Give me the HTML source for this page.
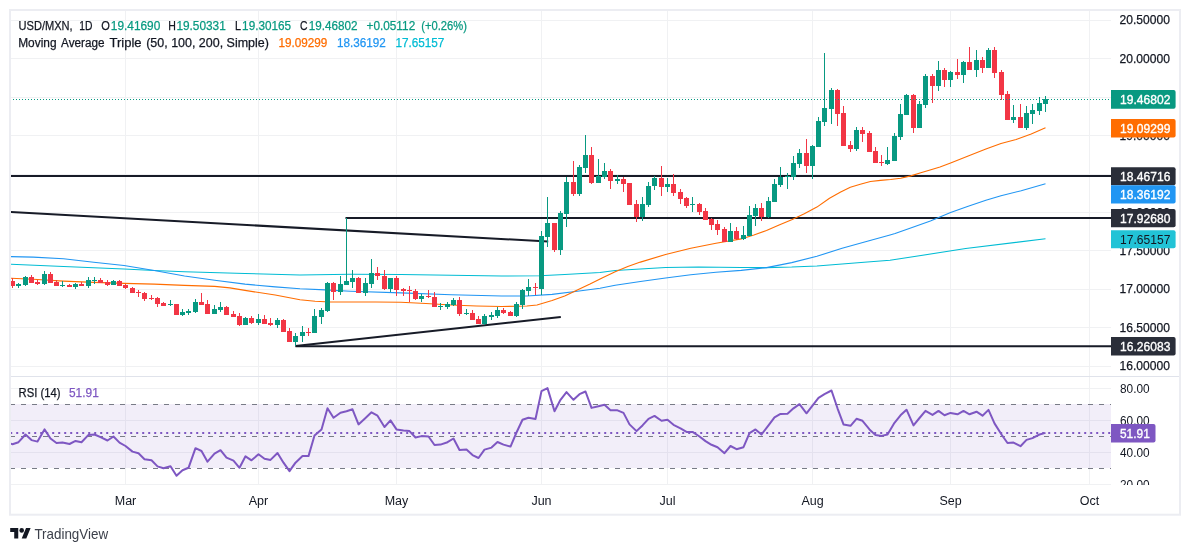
<!DOCTYPE html>
<html lang="en"><head><meta charset="utf-8"><title>USD/MXN 1D</title>
<style>html,body{margin:0;padding:0;background:#fff}body{width:1190px;height:552px;overflow:hidden}svg{display:block;will-change:transform;opacity:.999}text{font-family:"Liberation Sans", "DejaVu Sans", sans-serif;font-size:12.5px}</style></head><body>
<svg width="1190" height="552" viewBox="0 0 1190 552">
<rect width="1190" height="552" fill="#fff"/><g fill="#131722">
<g stroke="#f0f1f3" stroke-width="1" shape-rendering="crispEdges">
<line x1="11" x2="1111" y1="20.5" y2="20.5"/>
<line x1="11" x2="1111" y1="58.5" y2="58.5"/>
<line x1="11" x2="1111" y1="97.5" y2="97.5"/>
<line x1="11" x2="1111" y1="135.5" y2="135.5"/>
<line x1="11" x2="1111" y1="174.5" y2="174.5"/>
<line x1="11" x2="1111" y1="212.5" y2="212.5"/>
<line x1="11" x2="1111" y1="250.5" y2="250.5"/>
<line x1="11" x2="1111" y1="289.5" y2="289.5"/>
<line x1="11" x2="1111" y1="327.5" y2="327.5"/>
<line x1="11" x2="1111" y1="366.5" y2="366.5"/>
<line x1="11" x2="1111" y1="388.5" y2="388.5"/>
<line x1="11" x2="1111" y1="420.5" y2="420.5"/>
<line x1="11" x2="1111" y1="452.5" y2="452.5"/>
<line x1="11" x2="1111" y1="484.5" y2="484.5"/>
<line x1="125.5" x2="125.5" y1="11" y2="485"/>
<line x1="258.5" x2="258.5" y1="11" y2="485"/>
<line x1="396.5" x2="396.5" y1="11" y2="485"/>
<line x1="541.5" x2="541.5" y1="11" y2="485"/>
<line x1="667.5" x2="667.5" y1="11" y2="485"/>
<line x1="812.5" x2="812.5" y1="11" y2="485"/>
<line x1="950.5" x2="950.5" y1="11" y2="485"/>
<line x1="1089.5" x2="1089.5" y1="11" y2="485"/>
</g>
<line x1="11" x2="1179" y1="376.5" y2="376.5" stroke="#e0e3eb" stroke-width="1"/>
<rect x="11" y="404" width="1100" height="64" fill="#7E57C2" fill-opacity="0.1"/>
<g stroke="#787B86" stroke-width="1" stroke-dasharray="5 6" shape-rendering="crispEdges">
<line x1="10" x2="1111" y1="404.5" y2="404.5"/>
<line x1="10" x2="1111" y1="436.5" y2="436.5"/>
<line x1="10" x2="1111" y1="468.5" y2="468.5"/>
</g>
<defs><clipPath id="cp"><rect x="11" y="11" width="1100" height="365"/></clipPath><clipPath id="cr"><rect x="11" y="377" width="1100" height="108"/></clipPath></defs>
<g clip-path="url(#cp)">
<g stroke="#171b27" stroke-width="2" stroke-linecap="butt" fill="none">
<line x1="11" x2="1111" y1="176" y2="176"/>
<line x1="345.5" x2="1111" y1="218" y2="218"/>
<line x1="295.5" x2="1111" y1="346.3" y2="346.3"/>
<line x1="10" y1="212" x2="548.2" y2="241.5"/>
<line x1="295.5" y1="346" x2="560.8" y2="316.9"/>
</g>
<polyline fill="none" stroke="#00BCD4" stroke-width="1.05" stroke-linejoin="round" points="10.5,264.2 63.5,266.5 124.0,269.0 154.2,270.5 184.5,271.8 245.0,273.5 300.0,275.0 350.4,274.3 400.8,274.5 451.2,275.3 501.7,276.0 539.5,275.8 564.7,274.5 600.0,272.6 615.2,270.4 640.4,268.9 665.6,267.6 698.4,266.9 741.2,267.6 766.5,267.6 791.7,267.1 816.9,265.9 842.1,264.1 867.3,262.1 890.0,260.3 965.7,248.6 1045.5,238.7"/>
<polyline fill="none" stroke="#2196F3" stroke-width="1.1" stroke-linejoin="round" points="10.5,256.6 33.2,257.1 63.5,258.7 93.7,262.2 124.0,265.5 154.2,270.5 184.5,276.0 214.7,280.3 245.0,284.1 275.2,286.9 300.0,288.7 325.2,289.9 350.4,291.2 400.8,292.9 451.2,294.7 501.7,296.0 526.9,296.0 552.1,294.4 577.3,291.2 600.0,288.3 615.2,285.3 640.4,281.5 665.6,278.0 690.8,274.7 716.0,272.2 741.2,270.4 766.5,267.6 791.7,262.6 816.9,256.3 842.1,248.2 867.3,241.2 890.0,235.0 895.1,233.5 912.8,227.2 930.4,220.9 950.6,212.6 968.2,206.3 985.9,200.2 1001.0,195.7 1021.2,190.7 1045.5,183.8"/>
<polyline fill="none" stroke="#FF6D00" stroke-width="1.1" stroke-linejoin="round" points="10.5,278.3 33.2,279.3 63.5,281.1 93.7,282.4 124.0,283.4 154.2,284.1 184.5,285.4 214.7,286.4 229.8,287.9 245.0,290.4 275.2,295.0 300.0,299.7 315.1,301.3 330.2,302.0 375.6,302.0 400.8,302.3 426.0,303.5 451.2,305.0 476.5,306.0 501.7,306.5 526.9,306.0 537.0,305.0 552.1,300.5 564.7,296.0 577.3,289.9 590.0,284.0 602.6,277.7 615.2,271.8 627.8,266.4 640.4,262.1 665.6,254.5 690.8,248.2 716.0,243.2 741.2,238.9 753.9,234.9 766.5,230.6 779.1,225.0 791.7,219.7 804.3,213.7 816.9,207.1 829.5,198.2 840.2,192.3 850.3,187.2 860.3,184.2 870.4,181.5 880.5,180.4 890.6,179.5 900.7,178.2 910.8,175.9 920.8,172.8 930.9,169.8 940.0,166.9 950.6,162.9 968.2,156.1 985.9,149.1 1001.0,143.5 1016.1,139.5 1031.2,133.9 1045.5,127.8"/>
<g fill="#089981" shape-rendering="crispEdges">
<rect x="18.0" y="283" width="1" height="5"/><rect x="16.0" y="284" width="5" height="2"/>
<rect x="25.0" y="276" width="1" height="10"/><rect x="23.0" y="277" width="5" height="8"/>
<rect x="44.0" y="271" width="1" height="14"/><rect x="42.0" y="274" width="5" height="10"/>
<rect x="62.0" y="281" width="1" height="6"/><rect x="60.0" y="285" width="5" height="1"/>
<rect x="75.0" y="283" width="1" height="6"/><rect x="73.0" y="284" width="5" height="3"/>
<rect x="88.0" y="277" width="1" height="11"/><rect x="86.0" y="280" width="5" height="6"/>
<rect x="94.0" y="277" width="1" height="7"/><rect x="92.0" y="280" width="5" height="1"/>
<rect x="113.0" y="280" width="1" height="5"/><rect x="111.0" y="281" width="5" height="4"/>
<rect x="170.0" y="300" width="1" height="6"/><rect x="168.0" y="304" width="5" height="1"/>
<rect x="182.0" y="309" width="1" height="7"/><rect x="180.0" y="312" width="5" height="3"/>
<rect x="188.0" y="309" width="1" height="6"/><rect x="186.0" y="311" width="5" height="2"/>
<rect x="195.0" y="299" width="1" height="14"/><rect x="193.0" y="302" width="5" height="10"/>
<rect x="214.0" y="305" width="1" height="9"/><rect x="212.0" y="309" width="5" height="5"/>
<rect x="220.0" y="302" width="1" height="10"/><rect x="218.0" y="307" width="5" height="3"/>
<rect x="245.0" y="317" width="1" height="8"/><rect x="243.0" y="318" width="5" height="7"/>
<rect x="258.0" y="314" width="1" height="11"/><rect x="256.0" y="319" width="5" height="4"/>
<rect x="277.0" y="318" width="1" height="10"/><rect x="275.0" y="320" width="5" height="5"/>
<rect x="295.0" y="333" width="1" height="13"/><rect x="293.0" y="336" width="5" height="6"/>
<rect x="302.0" y="326" width="1" height="16"/><rect x="300.0" y="332" width="5" height="4"/>
<rect x="314.0" y="309" width="1" height="24"/><rect x="312.0" y="316" width="5" height="17"/>
<rect x="321.0" y="308" width="1" height="16"/><rect x="319.0" y="310" width="5" height="7"/>
<rect x="327.0" y="282" width="1" height="30"/><rect x="325.0" y="283" width="5" height="28"/>
<rect x="340.0" y="276" width="1" height="19"/><rect x="338.0" y="284" width="5" height="8"/>
<rect x="346.0" y="218" width="1" height="67"/><rect x="344.0" y="281" width="5" height="4"/>
<rect x="352.0" y="270" width="1" height="18"/><rect x="350.0" y="278" width="5" height="4"/>
<rect x="365.0" y="278" width="1" height="18"/><rect x="363.0" y="283" width="5" height="10"/>
<rect x="371.0" y="259" width="1" height="29"/><rect x="369.0" y="273" width="5" height="11"/>
<rect x="390.0" y="278" width="1" height="14"/><rect x="388.0" y="278" width="5" height="11"/>
<rect x="421.0" y="294" width="1" height="8"/><rect x="419.0" y="296" width="5" height="3"/>
<rect x="440.0" y="303" width="1" height="7"/><rect x="438.0" y="306" width="5" height="1"/>
<rect x="447.0" y="302" width="1" height="7"/><rect x="445.0" y="304" width="5" height="3"/>
<rect x="453.0" y="298" width="1" height="8"/><rect x="451.0" y="300" width="5" height="5"/>
<rect x="466.0" y="309" width="1" height="6"/><rect x="464.0" y="313" width="5" height="1"/>
<rect x="484.0" y="314" width="1" height="11"/><rect x="482.0" y="316" width="5" height="8"/>
<rect x="491.0" y="312" width="1" height="8"/><rect x="489.0" y="315" width="5" height="2"/>
<rect x="497.0" y="307" width="1" height="11"/><rect x="495.0" y="310" width="5" height="6"/>
<rect x="516.0" y="302" width="1" height="15"/><rect x="514.0" y="304" width="5" height="12"/>
<rect x="522.0" y="289" width="1" height="20"/><rect x="520.0" y="290" width="5" height="15"/>
<rect x="528.0" y="279" width="1" height="17"/><rect x="526.0" y="287" width="5" height="4"/>
<rect x="541.0" y="231" width="1" height="64"/><rect x="539.0" y="236" width="5" height="53"/>
<rect x="547.0" y="197" width="1" height="50"/><rect x="545.0" y="223" width="5" height="14"/>
<rect x="560.0" y="211" width="1" height="44"/><rect x="558.0" y="213" width="5" height="37"/>
<rect x="566.0" y="177" width="1" height="50"/><rect x="564.0" y="182" width="5" height="32"/>
<rect x="579.0" y="165" width="1" height="31"/><rect x="577.0" y="167" width="5" height="27"/>
<rect x="585.0" y="135" width="1" height="38"/><rect x="583.0" y="155" width="5" height="13"/>
<rect x="598.0" y="159" width="1" height="24"/><rect x="596.0" y="176" width="5" height="7"/>
<rect x="604.0" y="163" width="1" height="16"/><rect x="602.0" y="171" width="5" height="6"/>
<rect x="617.0" y="175" width="1" height="9"/><rect x="615.0" y="179" width="5" height="2"/>
<rect x="642.0" y="197" width="1" height="24"/><rect x="640.0" y="204" width="5" height="13"/>
<rect x="648.0" y="182" width="1" height="25"/><rect x="646.0" y="186" width="5" height="19"/>
<rect x="654.0" y="176" width="1" height="14"/><rect x="652.0" y="178" width="5" height="8"/>
<rect x="667.0" y="178" width="1" height="14"/><rect x="665.0" y="184" width="5" height="3"/>
<rect x="692.0" y="197" width="1" height="15"/><rect x="690.0" y="204" width="5" height="1"/>
<rect x="730.0" y="223" width="1" height="19"/><rect x="728.0" y="231" width="5" height="11"/>
<rect x="743.0" y="226" width="1" height="14"/><rect x="741.0" y="235" width="5" height="4"/>
<rect x="749.0" y="206" width="1" height="30"/><rect x="747.0" y="215" width="5" height="21"/>
<rect x="755.0" y="204" width="1" height="22"/><rect x="753.0" y="208" width="5" height="8"/>
<rect x="768.0" y="197" width="1" height="21"/><rect x="766.0" y="201" width="5" height="16"/>
<rect x="774.0" y="179" width="1" height="23"/><rect x="772.0" y="184" width="5" height="18"/>
<rect x="780.0" y="167" width="1" height="20"/><rect x="778.0" y="177" width="5" height="8"/>
<rect x="787.0" y="173" width="1" height="16"/><rect x="785.0" y="176" width="5" height="1"/>
<rect x="793.0" y="156" width="1" height="24"/><rect x="791.0" y="163" width="5" height="14"/>
<rect x="799.0" y="149" width="1" height="19"/><rect x="797.0" y="153" width="5" height="11"/>
<rect x="812.0" y="145" width="1" height="34"/><rect x="810.0" y="146" width="5" height="20"/>
<rect x="818.0" y="117" width="1" height="30"/><rect x="816.0" y="121" width="5" height="26"/>
<rect x="824.0" y="53" width="1" height="73"/><rect x="822.0" y="108" width="5" height="14"/>
<rect x="831.0" y="88" width="1" height="36"/><rect x="829.0" y="90" width="5" height="19"/>
<rect x="856.0" y="127" width="1" height="24"/><rect x="854.0" y="130" width="5" height="19"/>
<rect x="887.0" y="147" width="1" height="18"/><rect x="885.0" y="160" width="5" height="4"/>
<rect x="894.0" y="133" width="1" height="28"/><rect x="892.0" y="136" width="5" height="25"/>
<rect x="900.0" y="104" width="1" height="36"/><rect x="898.0" y="114" width="5" height="23"/>
<rect x="906.0" y="94" width="1" height="21"/><rect x="904.0" y="95" width="5" height="20"/>
<rect x="919.0" y="101" width="1" height="27"/><rect x="917.0" y="104" width="5" height="24"/>
<rect x="925.0" y="74" width="1" height="34"/><rect x="923.0" y="76" width="5" height="29"/>
<rect x="938.0" y="61" width="1" height="30"/><rect x="936.0" y="70" width="5" height="16"/>
<rect x="950.0" y="71" width="1" height="16"/><rect x="948.0" y="72" width="5" height="8"/>
<rect x="963.0" y="61" width="1" height="22"/><rect x="961.0" y="62" width="5" height="13"/>
<rect x="976.0" y="50" width="1" height="27"/><rect x="974.0" y="60" width="5" height="10"/>
<rect x="988.0" y="48" width="1" height="20"/><rect x="986.0" y="50" width="5" height="18"/>
<rect x="1013.0" y="105" width="1" height="18"/><rect x="1011.0" y="117" width="5" height="3"/>
<rect x="1026.0" y="106" width="1" height="24"/><rect x="1024.0" y="113" width="5" height="15"/>
<rect x="1032.0" y="104" width="1" height="20"/><rect x="1030.0" y="110" width="5" height="4"/>
<rect x="1039.0" y="97" width="1" height="18"/><rect x="1037.0" y="103" width="5" height="8"/>
<rect x="1045.0" y="96" width="1" height="16"/><rect x="1043.0" y="99" width="5" height="5"/>
</g>
<g fill="#F23645" shape-rendering="crispEdges">
<rect x="12.0" y="278" width="1" height="10"/><rect x="10.0" y="281" width="5" height="5"/>
<rect x="31.0" y="275" width="1" height="8"/><rect x="29.0" y="277" width="5" height="6"/>
<rect x="37.0" y="280" width="1" height="5"/><rect x="35.0" y="282" width="5" height="2"/>
<rect x="50.0" y="272" width="1" height="11"/><rect x="48.0" y="274" width="5" height="9"/>
<rect x="56.0" y="280" width="1" height="6"/><rect x="54.0" y="282" width="5" height="4"/>
<rect x="69.0" y="284" width="1" height="3"/><rect x="67.0" y="285" width="5" height="2"/>
<rect x="81.0" y="282" width="1" height="4"/><rect x="79.0" y="284" width="5" height="2"/>
<rect x="100.0" y="278" width="1" height="5"/><rect x="98.0" y="280" width="5" height="3"/>
<rect x="107.0" y="280" width="1" height="6"/><rect x="105.0" y="282" width="5" height="3"/>
<rect x="119.0" y="280" width="1" height="6"/><rect x="117.0" y="281" width="5" height="5"/>
<rect x="125.0" y="284" width="1" height="5"/><rect x="123.0" y="285" width="5" height="3"/>
<rect x="132.0" y="287" width="1" height="6"/><rect x="130.0" y="288" width="5" height="5"/>
<rect x="138.0" y="290" width="1" height="7"/><rect x="136.0" y="292" width="5" height="1"/>
<rect x="144.0" y="292" width="1" height="9"/><rect x="142.0" y="293" width="5" height="6"/>
<rect x="151.0" y="295" width="1" height="5"/><rect x="149.0" y="298" width="5" height="1"/>
<rect x="157.0" y="297" width="1" height="10"/><rect x="155.0" y="298" width="5" height="6"/>
<rect x="163.0" y="302" width="1" height="4"/><rect x="161.0" y="303" width="5" height="3"/>
<rect x="176.0" y="304" width="1" height="11"/><rect x="174.0" y="304" width="5" height="11"/>
<rect x="201.0" y="293" width="1" height="12"/><rect x="199.0" y="302" width="5" height="3"/>
<rect x="207.0" y="300" width="1" height="14"/><rect x="205.0" y="304" width="5" height="10"/>
<rect x="226.0" y="306" width="1" height="9"/><rect x="224.0" y="307" width="5" height="8"/>
<rect x="233.0" y="311" width="1" height="6"/><rect x="231.0" y="314" width="5" height="3"/>
<rect x="239.0" y="313" width="1" height="13"/><rect x="237.0" y="316" width="5" height="9"/>
<rect x="251.0" y="316" width="1" height="8"/><rect x="249.0" y="318" width="5" height="5"/>
<rect x="264.0" y="315" width="1" height="9"/><rect x="262.0" y="319" width="5" height="5"/>
<rect x="270.0" y="318" width="1" height="8"/><rect x="268.0" y="323" width="5" height="2"/>
<rect x="283.0" y="319" width="1" height="13"/><rect x="281.0" y="320" width="5" height="12"/>
<rect x="289.0" y="328" width="1" height="14"/><rect x="287.0" y="331" width="5" height="11"/>
<rect x="308.0" y="328" width="1" height="8"/><rect x="306.0" y="332" width="5" height="1"/>
<rect x="333.0" y="282" width="1" height="18"/><rect x="331.0" y="283" width="5" height="9"/>
<rect x="358.0" y="277" width="1" height="16"/><rect x="356.0" y="278" width="5" height="15"/>
<rect x="377.0" y="267" width="1" height="13"/><rect x="375.0" y="273" width="5" height="3"/>
<rect x="384.0" y="270" width="1" height="20"/><rect x="382.0" y="276" width="5" height="13"/>
<rect x="396.0" y="276" width="1" height="20"/><rect x="394.0" y="278" width="5" height="12"/>
<rect x="403.0" y="288" width="1" height="8"/><rect x="401.0" y="289" width="5" height="2"/>
<rect x="409.0" y="286" width="1" height="16"/><rect x="407.0" y="290" width="5" height="1"/>
<rect x="415.0" y="289" width="1" height="11"/><rect x="413.0" y="291" width="5" height="8"/>
<rect x="428.0" y="290" width="1" height="8"/><rect x="426.0" y="296" width="5" height="1"/>
<rect x="434.0" y="292" width="1" height="15"/><rect x="432.0" y="297" width="5" height="10"/>
<rect x="459.0" y="297" width="1" height="19"/><rect x="457.0" y="300" width="5" height="14"/>
<rect x="472.0" y="310" width="1" height="10"/><rect x="470.0" y="313" width="5" height="7"/>
<rect x="478.0" y="316" width="1" height="8"/><rect x="476.0" y="319" width="5" height="5"/>
<rect x="503.0" y="308" width="1" height="6"/><rect x="501.0" y="310" width="5" height="3"/>
<rect x="510.0" y="311" width="1" height="5"/><rect x="508.0" y="312" width="5" height="4"/>
<rect x="535.0" y="283" width="1" height="12"/><rect x="533.0" y="287" width="5" height="1"/>
<rect x="554.0" y="223" width="1" height="29"/><rect x="552.0" y="223" width="5" height="27"/>
<rect x="573.0" y="161" width="1" height="35"/><rect x="571.0" y="182" width="5" height="12"/>
<rect x="591.0" y="147" width="1" height="37"/><rect x="589.0" y="155" width="5" height="28"/>
<rect x="610.0" y="169" width="1" height="20"/><rect x="608.0" y="171" width="5" height="10"/>
<rect x="623.0" y="177" width="1" height="15"/><rect x="621.0" y="179" width="5" height="5"/>
<rect x="629.0" y="183" width="1" height="22"/><rect x="627.0" y="183" width="5" height="22"/>
<rect x="636.0" y="200" width="1" height="22"/><rect x="634.0" y="204" width="5" height="13"/>
<rect x="661.0" y="166" width="1" height="30"/><rect x="659.0" y="178" width="5" height="9"/>
<rect x="673.0" y="174" width="1" height="22"/><rect x="671.0" y="184" width="5" height="9"/>
<rect x="680.0" y="189" width="1" height="15"/><rect x="678.0" y="192" width="5" height="7"/>
<rect x="686.0" y="197" width="1" height="11"/><rect x="684.0" y="198" width="5" height="8"/>
<rect x="699.0" y="203" width="1" height="12"/><rect x="697.0" y="204" width="5" height="8"/>
<rect x="705.0" y="208" width="1" height="12"/><rect x="703.0" y="211" width="5" height="9"/>
<rect x="711.0" y="218" width="1" height="12"/><rect x="709.0" y="219" width="5" height="6"/>
<rect x="717.0" y="220" width="1" height="15"/><rect x="715.0" y="224" width="5" height="6"/>
<rect x="724.0" y="227" width="1" height="15"/><rect x="722.0" y="229" width="5" height="13"/>
<rect x="736.0" y="227" width="1" height="13"/><rect x="734.0" y="231" width="5" height="8"/>
<rect x="761.0" y="203" width="1" height="18"/><rect x="759.0" y="208" width="5" height="9"/>
<rect x="806.0" y="139" width="1" height="34"/><rect x="804.0" y="153" width="5" height="13"/>
<rect x="837.0" y="89" width="1" height="37"/><rect x="835.0" y="90" width="5" height="24"/>
<rect x="843.0" y="106" width="1" height="40"/><rect x="841.0" y="113" width="5" height="33"/>
<rect x="850.0" y="141" width="1" height="11"/><rect x="848.0" y="145" width="5" height="4"/>
<rect x="862.0" y="127" width="1" height="15"/><rect x="860.0" y="130" width="5" height="4"/>
<rect x="869.0" y="131" width="1" height="21"/><rect x="867.0" y="133" width="5" height="19"/>
<rect x="875.0" y="147" width="1" height="16"/><rect x="873.0" y="151" width="5" height="12"/>
<rect x="881.0" y="155" width="1" height="11"/><rect x="879.0" y="162" width="5" height="1"/>
<rect x="913.0" y="94" width="1" height="39"/><rect x="911.0" y="95" width="5" height="33"/>
<rect x="932.0" y="74" width="1" height="29"/><rect x="930.0" y="76" width="5" height="10"/>
<rect x="944.0" y="68" width="1" height="19"/><rect x="942.0" y="70" width="5" height="10"/>
<rect x="957.0" y="59" width="1" height="20"/><rect x="955.0" y="72" width="5" height="3"/>
<rect x="969.0" y="47" width="1" height="23"/><rect x="967.0" y="62" width="5" height="8"/>
<rect x="982.0" y="57" width="1" height="16"/><rect x="980.0" y="60" width="5" height="8"/>
<rect x="994.0" y="47" width="1" height="31"/><rect x="992.0" y="50" width="5" height="23"/>
<rect x="1001.0" y="70" width="1" height="30"/><rect x="999.0" y="72" width="5" height="23"/>
<rect x="1007.0" y="91" width="1" height="29"/><rect x="1005.0" y="94" width="5" height="26"/>
<rect x="1020.0" y="104" width="1" height="24"/><rect x="1018.0" y="117" width="5" height="11"/>
</g>
<line x1="10" x2="1111" y1="99.5" y2="99.5" stroke="#089981" stroke-width="1" stroke-dasharray="1 2" shape-rendering="crispEdges"/>
</g>
<g clip-path="url(#cr)">
<line x1="10.2" x2="1111" y1="433" y2="433" stroke="#7E57C2" stroke-width="2" stroke-dasharray="2 4"/>
<polyline fill="none" stroke="#7E57C2" stroke-width="2" stroke-linejoin="round" points="6.2,442.6 12.5,444.2 18.5,442.2 25.5,434.5 31.5,440.1 37.5,441.6 44.5,429.4 50.5,438.5 56.5,443.0 62.5,442.6 69.5,444.0 75.5,440.9 81.5,442.2 88.5,434.9 94.5,434.5 100.5,437.1 107.5,440.5 113.5,436.5 119.5,442.6 125.5,446.0 132.5,451.6 138.5,453.2 144.5,459.3 151.5,460.3 157.5,466.4 163.5,468.2 170.5,466.2 176.5,475.8 182.5,470.2 188.5,467.8 195.5,448.2 201.5,451.0 207.5,461.7 214.5,453.7 220.5,450.2 226.5,457.7 233.5,460.7 239.5,467.8 245.5,456.3 251.5,460.3 258.5,454.3 264.5,458.7 270.5,459.9 277.5,453.0 283.5,462.7 289.5,471.2 295.5,462.7 302.5,456.1 308.5,456.1 314.5,435.5 321.5,429.4 327.5,408.3 333.5,417.8 340.5,412.7 346.5,411.3 352.5,409.3 358.5,424.4 365.5,418.0 371.5,412.3 377.5,415.7 384.5,427.0 390.5,420.4 396.5,429.4 403.5,430.5 409.5,431.1 415.5,437.5 421.5,436.1 428.5,436.5 434.5,445.0 440.5,444.6 447.5,442.2 453.5,438.5 459.5,450.0 466.5,449.6 472.5,455.1 478.5,458.0 484.5,449.6 491.5,447.6 497.5,442.0 503.5,444.6 510.5,446.6 516.5,432.5 522.5,419.8 528.5,417.8 535.5,419.0 541.5,391.1 547.5,388.1 554.5,411.3 560.5,399.8 566.5,392.1 573.5,399.8 579.5,394.2 585.5,391.5 591.5,407.9 598.5,406.3 604.5,404.8 610.5,410.3 617.5,410.3 623.5,412.9 629.5,424.4 636.5,431.1 642.5,425.4 648.5,418.8 654.5,415.9 661.5,420.8 667.5,419.8 673.5,424.8 680.5,428.4 686.5,431.9 692.5,431.9 699.5,436.5 705.5,441.1 711.5,444.8 717.5,447.2 724.5,453.2 730.5,446.0 736.5,449.2 743.5,447.2 749.5,433.1 755.5,429.4 761.5,434.5 768.5,425.4 774.5,417.3 780.5,413.9 787.5,413.7 793.5,408.3 799.5,404.2 806.5,413.3 812.5,405.6 818.5,397.8 824.5,394.2 831.5,390.5 837.5,408.3 843.5,424.4 850.5,425.8 856.5,418.8 862.5,420.8 869.5,429.4 875.5,435.1 881.5,435.9 887.5,434.5 894.5,422.8 900.5,415.3 906.5,409.7 913.5,425.4 919.5,418.0 925.5,410.9 932.5,414.9 938.5,410.9 944.5,415.3 950.5,412.9 957.5,414.3 963.5,410.9 969.5,414.3 976.5,411.7 982.5,415.7 988.5,409.9 994.5,423.4 1001.5,434.5 1007.5,443.0 1013.5,442.6 1020.5,446.2 1026.5,439.9 1032.5,438.1 1039.5,434.5 1045.5,432.9"/>
</g>
<rect x="10" y="10" width="1170" height="504.7" fill="none" stroke="#ecedf2" stroke-width="2"/>
<text x="18.5" y="29.7" fill="#131722" stroke="#131722" stroke-width="0.25" textLength="54.2" lengthAdjust="spacingAndGlyphs">USD/MXN,</text>
<text x="79.2" y="29.7" fill="#131722" stroke="#131722" stroke-width="0.25" textLength="13.2" lengthAdjust="spacingAndGlyphs">1D</text>
<text x="101.2" y="29.7" fill="#131722" stroke="#131722" stroke-width="0.25" textLength="8.6" lengthAdjust="spacingAndGlyphs">O</text>
<text x="110.8" y="29.7" fill="#089981" stroke="#089981" stroke-width="0.25" textLength="49.5" lengthAdjust="spacingAndGlyphs">19.41690</text>
<text x="168.3" y="29.7" fill="#131722" stroke="#131722" stroke-width="0.25" textLength="7.6" lengthAdjust="spacingAndGlyphs">H</text>
<text x="176.4" y="29.7" fill="#089981" stroke="#089981" stroke-width="0.25" textLength="49.4" lengthAdjust="spacingAndGlyphs">19.50331</text>
<text x="235.0" y="29.7" fill="#131722" stroke="#131722" stroke-width="0.25" textLength="6.0" lengthAdjust="spacingAndGlyphs">L</text>
<text x="242.1" y="29.7" fill="#089981" stroke="#089981" stroke-width="0.25" textLength="49.0" lengthAdjust="spacingAndGlyphs">19.30165</text>
<text x="300.0" y="29.7" fill="#131722" stroke="#131722" stroke-width="0.25" textLength="7.5" lengthAdjust="spacingAndGlyphs">C</text>
<text x="308.7" y="29.7" fill="#089981" stroke="#089981" stroke-width="0.25" textLength="48.8" lengthAdjust="spacingAndGlyphs">19.46802</text>
<text x="366.5" y="29.7" fill="#089981" stroke="#089981" stroke-width="0.25" textLength="48.7" lengthAdjust="spacingAndGlyphs">+0.05112</text>
<text x="421.2" y="29.7" fill="#089981" stroke="#089981" stroke-width="0.25" textLength="45.8" lengthAdjust="spacingAndGlyphs">(+0.26%)</text>
<text x="18.2" y="47.3" fill="#131722" stroke="#131722" stroke-width="0.25" textLength="38.3" lengthAdjust="spacingAndGlyphs">Moving</text>
<text x="61.1" y="47.3" fill="#131722" stroke="#131722" stroke-width="0.25" textLength="43.5" lengthAdjust="spacingAndGlyphs">Average</text>
<text x="109.5" y="47.3" fill="#131722" stroke="#131722" stroke-width="0.25" textLength="32.1" lengthAdjust="spacingAndGlyphs">Triple</text>
<text x="146.2" y="47.3" fill="#131722" stroke="#131722" stroke-width="0.25" textLength="122.7" lengthAdjust="spacingAndGlyphs">(50, 100, 200, Simple)</text>
<text x="278.4" y="47.3" fill="#FF6D00" stroke="#FF6D00" stroke-width="0.25" textLength="49.0" lengthAdjust="spacingAndGlyphs">19.09299</text>
<text x="336.9" y="47.3" fill="#2196F3" stroke="#2196F3" stroke-width="0.25" textLength="48.8" lengthAdjust="spacingAndGlyphs">18.36192</text>
<text x="395.4" y="47.3" fill="#00BCD4" stroke="#00BCD4" stroke-width="0.25" textLength="49.0" lengthAdjust="spacingAndGlyphs">17.65157</text>
<text x="18.5" y="396.8" fill="#131722" stroke="#131722" stroke-width="0.25" textLength="42.0" lengthAdjust="spacingAndGlyphs">RSI (14)</text>
<text x="69.0" y="396.8" fill="#7E57C2" stroke="#7E57C2" stroke-width="0.25" textLength="29.8" lengthAdjust="spacingAndGlyphs">51.91</text>
<text x="1119.6" y="23.9" fill="#131722" stroke="#131722" stroke-width="0.25" textLength="50.3" lengthAdjust="spacingAndGlyphs">20.50000</text>
<text x="1119.6" y="62.6" fill="#131722" stroke="#131722" stroke-width="0.25" textLength="50.3" lengthAdjust="spacingAndGlyphs">20.00000</text>
<text x="1119.6" y="101.3" fill="#131722" stroke="#131722" stroke-width="0.25" textLength="50.3" lengthAdjust="spacingAndGlyphs">19.50000</text>
<text x="1119.6" y="139.8" fill="#131722" stroke="#131722" stroke-width="0.25" textLength="50.3" lengthAdjust="spacingAndGlyphs">19.00000</text>
<text x="1119.6" y="178.3" fill="#131722" stroke="#131722" stroke-width="0.25" textLength="50.3" lengthAdjust="spacingAndGlyphs">18.50000</text>
<text x="1119.6" y="216.7" fill="#131722" stroke="#131722" stroke-width="0.25" textLength="50.3" lengthAdjust="spacingAndGlyphs">18.00000</text>
<text x="1119.6" y="255.1" fill="#131722" stroke="#131722" stroke-width="0.25" textLength="50.3" lengthAdjust="spacingAndGlyphs">17.50000</text>
<text x="1119.6" y="293.2" fill="#131722" stroke="#131722" stroke-width="0.25" textLength="50.3" lengthAdjust="spacingAndGlyphs">17.00000</text>
<text x="1119.6" y="331.6" fill="#131722" stroke="#131722" stroke-width="0.25" textLength="50.3" lengthAdjust="spacingAndGlyphs">16.50000</text>
<text x="1119.6" y="369.5" fill="#131722" stroke="#131722" stroke-width="0.25" textLength="50.3" lengthAdjust="spacingAndGlyphs">16.00000</text>
<text x="1120" y="393.1" textLength="29.6" lengthAdjust="spacingAndGlyphs">80.00</text>
<text x="1120" y="424.9" textLength="29.6" lengthAdjust="spacingAndGlyphs">60.00</text>
<text x="1120" y="456.9" textLength="29.6" lengthAdjust="spacingAndGlyphs">40.00</text>
<text x="1120" y="489.1" textLength="29.6" lengthAdjust="spacingAndGlyphs">20.00</text>
<rect x="1112" y="485" width="66" height="12" fill="#fff"/>
<path d="M1111.0 90.0h62.6a2 2 0 0 1 2 2v14.7a2 2 0 0 1 -2 2h-62.6z" fill="#089981"/>
<text x="1120.1" y="103.6" fill="#fff" stroke="#fff" stroke-width="0.35" textLength="50.3" lengthAdjust="spacingAndGlyphs">19.46802</text>
<path d="M1111.0 119.0h62.6a2 2 0 0 1 2 2v14.4a2 2 0 0 1 -2 2h-62.6z" fill="#FF6D00"/>
<text x="1120.1" y="132.5" fill="#fff" stroke="#fff" stroke-width="0.35" textLength="50.3" lengthAdjust="spacingAndGlyphs">19.09299</text>
<path d="M1111.0 167.2h62.6a2 2 0 0 1 2 2v14.1a2 2 0 0 1 -2 2h-62.6z" fill="#2a2e39"/>
<text x="1120.1" y="180.6" fill="#fff" stroke="#fff" stroke-width="0.35" textLength="50.3" lengthAdjust="spacingAndGlyphs">18.46716</text>
<path d="M1111.0 185.3h62.6a2 2 0 0 1 2 2v14.1a2 2 0 0 1 -2 2h-62.6z" fill="#2196F3"/>
<text x="1120.1" y="198.7" fill="#fff" stroke="#fff" stroke-width="0.35" textLength="50.3" lengthAdjust="spacingAndGlyphs">18.36192</text>
<path d="M1111.0 209.0h62.6a2 2 0 0 1 2 2v14.3a2 2 0 0 1 -2 2h-62.6z" fill="#2a2e39"/>
<text x="1120.1" y="222.5" fill="#fff" stroke="#fff" stroke-width="0.35" textLength="50.3" lengthAdjust="spacingAndGlyphs">17.92680</text>
<path d="M1111.0 230.2h62.6a2 2 0 0 1 2 2v14.1a2 2 0 0 1 -2 2h-62.6z" fill="#22c3d6"/>
<text x="1120.1" y="243.6" fill="#131722" textLength="50.3" lengthAdjust="spacingAndGlyphs">17.65157</text>
<path d="M1111.0 336.9h62.6a2 2 0 0 1 2 2v14.6a2 2 0 0 1 -2 2h-62.6z" fill="#2a2e39"/>
<text x="1120.1" y="350.5" fill="#fff" stroke="#fff" stroke-width="0.35" textLength="50.3" lengthAdjust="spacingAndGlyphs">16.26083</text>
<path d="M1111.0 424.0h42.5a2 2 0 0 1 2 2v14.6a2 2 0 0 1 -2 2h-42.5z" fill="#7E57C2"/>
<text x="1120" y="437.6" fill="#fff" stroke="#fff" stroke-width="0.35" textLength="29.8" lengthAdjust="spacingAndGlyphs">51.91</text>
<text x="125.5" y="504.6" text-anchor="middle">Mar</text>
<text x="258.5" y="504.6" text-anchor="middle">Apr</text>
<text x="396.5" y="504.6" text-anchor="middle">May</text>
<text x="541.5" y="504.6" text-anchor="middle">Jun</text>
<text x="667.5" y="504.6" text-anchor="middle">Jul</text>
<text x="812.5" y="504.6" text-anchor="middle">Aug</text>
<text x="950.5" y="504.6" text-anchor="middle">Sep</text>
<text x="1089.5" y="504.6" text-anchor="middle">Oct</text>
<g transform="translate(10.2,525.8) scale(0.575)" fill="#131722"><path d="M14 22H7V11H0V4h14v18zM28 22h-8l7.5-18h8L28 22z"/><circle cx="20" cy="8" r="4"/></g>
<text x="34.4" y="538.5" style="font-size:13.9px" fill="#3c404b" textLength="73.7" lengthAdjust="spacingAndGlyphs">TradingView</text>
</g></svg></body></html>
